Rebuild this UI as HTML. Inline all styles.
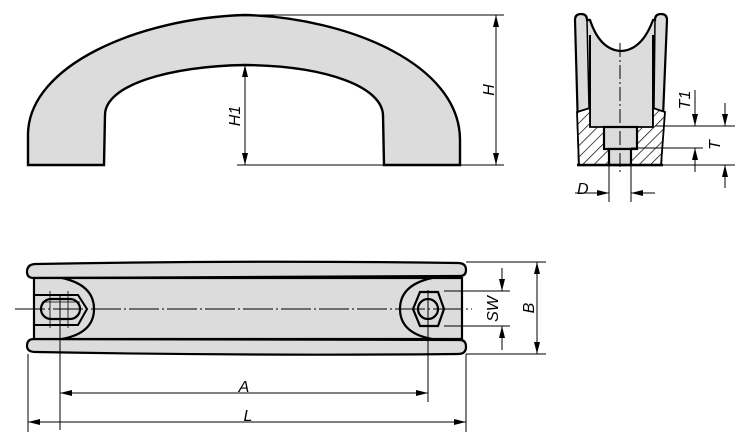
<!DOCTYPE html>
<html><head><meta charset="utf-8"><style>
html,body{margin:0;padding:0;background:#fff;}
svg{display:block;}
text{font-family:"Liberation Sans",sans-serif;font-style:italic;font-size:16px;fill:#000;}
</style></head><body>
<svg width="750" height="447" viewBox="0 0 750 447" xmlns="http://www.w3.org/2000/svg">
<defs>
<marker id="a" viewBox="0 0 12 6" refX="12" refY="3" markerWidth="12" markerHeight="6" orient="auto-start-reverse" markerUnits="userSpaceOnUse"><path d="M0,0 L12,3 L0,6 z" fill="#000"/></marker>
<pattern id="h" width="8" height="8" patternUnits="userSpaceOnUse" patternTransform="rotate(45)"><rect width="8" height="8" fill="#fff"/><line x1="0" y1="0" x2="0" y2="8" stroke="#000" stroke-width="1.4"/></pattern>
</defs>
<g stroke="#000" fill="none">
<!-- front view handle -->
<path d="M28,165 L28,135 C28,65 140,18 245,15 C350,18 460,65 460,140 L460,165 L384,165 L383,115 C382,88 330,66 245,65 C170,66 105,85 105,115 L104,165 Z" fill="#dcdcdc" stroke-width="2.4"/>
<line x1="245" y1="15" x2="504" y2="15" stroke-width="1"/>
<line x1="237" y1="165" x2="504" y2="165" stroke-width="1"/>
<line x1="496" y1="15" x2="496" y2="165" stroke-width="1" marker-start="url(#a)" marker-end="url(#a)"/>
<line x1="245" y1="65" x2="245" y2="165" stroke-width="1" marker-start="url(#a)" marker-end="url(#a)"/>

<!-- side view -->
<path d="M575,20 Q575,14 581,14 Q587,14 587,20 L590,20 Q600,50 621,51 Q642,50 653,20 L655,20 Q655,14 661,14 Q667,14 667,20 L661,165 L579,165 Z" fill="#dcdcdc" stroke-width="2.2"/>
<line x1="587" y1="20" x2="589" y2="108" stroke-width="1.5"/>
<line x1="655" y1="20" x2="654" y2="108" stroke-width="1.5"/>
<line x1="590" y1="35" x2="590" y2="127" stroke-width="2"/>
<line x1="653" y1="35" x2="653" y2="127" stroke-width="2"/>
<path d="M577,112 L590,108 L590,127 L604,127 L604,149 L609,149 L609,165 L579,165 Z" fill="url(#h)" stroke-width="1.8"/>
<path d="M665,112 L653,108 L653,127 L637,127 L637,149 L631,149 L631,165 L661,165 Z" fill="url(#h)" stroke-width="1.8"/>
<rect x="604" y="127" width="33" height="22" fill="#dcdcdc" stroke-width="2.2"/>
<rect x="609" y="149" width="22" height="16" fill="#dcdcdc" stroke-width="2.2"/>
<line x1="577" y1="165" x2="663" y2="165" stroke-width="2.4"/>
<line x1="620" y1="43" x2="620" y2="173" stroke-width="1" stroke-dasharray="14,3,2,3"/>
<line x1="655" y1="126" x2="735" y2="126" stroke-width="1"/>
<line x1="631" y1="148" x2="703" y2="148" stroke-width="1"/>
<line x1="663" y1="165" x2="735" y2="165" stroke-width="1"/>
<line x1="695" y1="90" x2="695" y2="126" stroke-width="1" marker-end="url(#a)"/>
<line x1="695" y1="172" x2="695" y2="148" stroke-width="1" marker-end="url(#a)"/>
<line x1="725" y1="103" x2="725" y2="126" stroke-width="1" marker-end="url(#a)"/>
<line x1="725" y1="188" x2="725" y2="165" stroke-width="1" marker-end="url(#a)"/>
<line x1="609" y1="165" x2="609" y2="202" stroke-width="1"/>
<line x1="631" y1="165" x2="631" y2="202" stroke-width="1"/>
<line x1="575" y1="193" x2="609" y2="193" stroke-width="1" marker-end="url(#a)"/>
<line x1="655" y1="193" x2="631" y2="193" stroke-width="1" marker-end="url(#a)"/>

<!-- top view -->
<path d="M27,272 Q27,264 36,264 Q250,260 458,263 Q466,263 466,270 Q466,276 460,276 L34,278 Q27,278 27,272 Z" fill="#dcdcdc" stroke-width="2.2"/>
<path d="M27,346 Q27,339 34,339 L460,340 Q466,340 466,347 Q466,354 458,354 Q250,356 36,352 Q27,352 27,346 Z" fill="#dcdcdc" stroke-width="2.2"/>
<rect x="34" y="278" width="428" height="61" fill="#dcdcdc" stroke-width="2.2"/>
<path d="M62,278 Q94,285 94,309 Q94,333 62,339" fill="#dcdcdc" stroke-width="2.2"/>
<path d="M34,295 L78,295 L87,309 L78,325 L34,325" stroke-width="2"/>
<rect x="41" y="299" width="39" height="20" rx="10" stroke-width="2.2"/>
<path d="M432,278 Q400,285 400,309 Q400,333 432,339" stroke-width="2.2"/>
<path d="M413,309 L420,292 L438,292 L444,309 L438,326 L420,326 Z" stroke-width="2.2"/>
<circle cx="428" cy="309" r="10" stroke-width="2.2"/>
<line x1="15" y1="309" x2="472" y2="309" stroke-width="1" stroke-dasharray="30,3,2,3"/>
<line x1="50" y1="291" x2="50" y2="328" stroke-width="0.8"/>
<line x1="68" y1="291" x2="68" y2="328" stroke-width="0.8"/>
<line x1="42" y1="302" x2="80" y2="302" stroke-width="0.8"/>
<line x1="60" y1="295" x2="60" y2="430" stroke-width="1"/>
<line x1="428" y1="290" x2="428" y2="402" stroke-width="1"/>
<line x1="28" y1="354" x2="28" y2="432" stroke-width="1"/>
<line x1="466" y1="354" x2="466" y2="432" stroke-width="1"/>
<line x1="60" y1="393" x2="428" y2="393" stroke-width="1" marker-start="url(#a)" marker-end="url(#a)"/>
<line x1="28" y1="422" x2="466" y2="422" stroke-width="1" marker-start="url(#a)" marker-end="url(#a)"/>
<line x1="444" y1="291" x2="510" y2="291" stroke-width="1"/>
<line x1="444" y1="326" x2="510" y2="326" stroke-width="1"/>
<line x1="466" y1="262" x2="546" y2="262" stroke-width="1"/>
<line x1="466" y1="354" x2="546" y2="354" stroke-width="1"/>
<line x1="502" y1="268" x2="502" y2="291" stroke-width="1" marker-end="url(#a)"/>
<line x1="502" y1="350" x2="502" y2="326" stroke-width="1" marker-end="url(#a)"/>
<line x1="537" y1="262" x2="537" y2="354" stroke-width="1" marker-start="url(#a)" marker-end="url(#a)"/>
</g>
<text transform="translate(494,90) rotate(-90)" text-anchor="middle">H</text>
<text transform="translate(240,116) rotate(-90)" text-anchor="middle">H1</text>
<text transform="translate(690,100) rotate(-90)" text-anchor="middle">T1</text>
<text transform="translate(720,145) rotate(-90)" text-anchor="middle">T</text>
<text x="577" y="194">D</text>
<text x="244" y="392" text-anchor="middle">A</text>
<text x="248" y="421" text-anchor="middle">L</text>
<text transform="translate(498,309) rotate(-90)" text-anchor="middle">SW</text>
<text transform="translate(534,308) rotate(-90)" text-anchor="middle">B</text>
</svg>
</body></html>
